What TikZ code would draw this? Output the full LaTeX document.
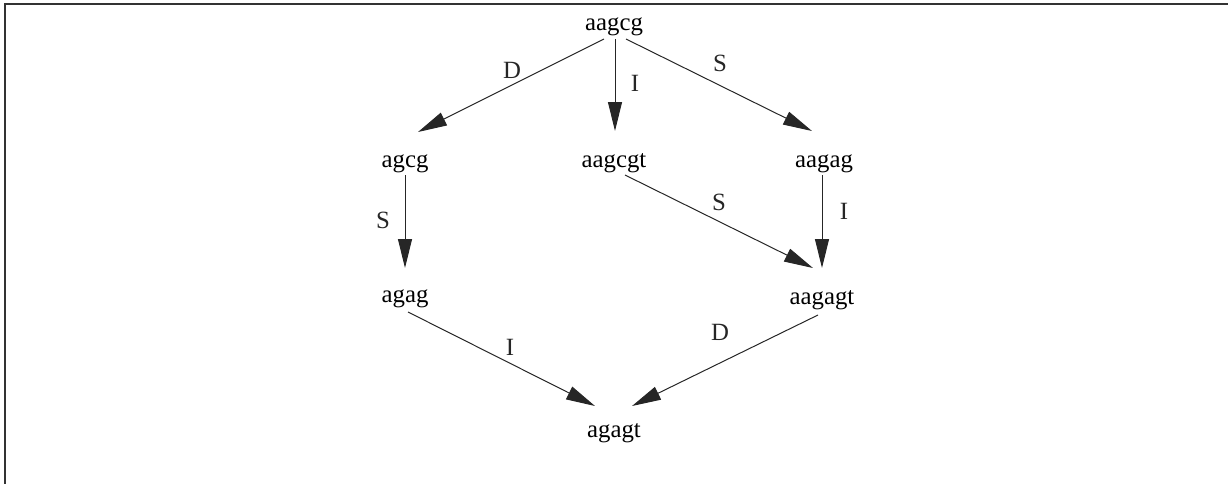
\documentclass[tikz,border=0pt]{standalone}
\usepackage{fontspec}
\setmainfont{Liberation Serif}
\usetikzlibrary{arrows.meta, calc}

\begin{document}
\begin{tikzpicture}[
    x=0.5pt, y=-0.5pt,
    font=\fontsize{12.4}{15}\selectfont,
    word/.style={anchor=base, inner sep=0pt},
    lbl/.style={inner sep=0pt, anchor=center},
    arr/.style={-{Triangle[length=14.5pt, width=7pt]}, line width=0.5pt, black!85}
]
\useasboundingbox (0,0) rectangle (1228,484);
\draw[line width=0.7pt, black!80] (1228,4) -- (5,4) -- (5,484);
% strings
\node[word] (aagcg) at (614,30) {aagcg};
\node[word] (agcg) at (405,167) {agcg};
\node[word] (aagcgt) at (614,167) {aagcgt};
\node[word] (aagag) at (824,167) {aagag};
\node[word] (agag) at (405,302) {agag};
\node[word] (aagagt) at (822,304) {aagagt};
\node[word] (agagt) at (614,437) {agagt};
% edit steps
\draw[arr] ($(aagcg.base)+(-10,9)$) -- ($(agcg.base)+(13,-35)$) node[lbl, midway, shift={(1,-15.5)}] {D};
\draw[arr] ($(aagcg.base)+(1,9)$) -- ($(aagcgt.base)+(1,-36)$) node[lbl, midway, shift={(20,-2)}] {I};
\draw[arr] ($(aagcg.base)+(12,9)$) -- ($(aagag.base)+(-12,-36)$) node[lbl, midway, shift={(1,-22)}] {S};
\draw[arr] ($(agcg.base)+(0,8)$) -- ($(agag.base)+(0,-34)$) node[lbl, midway, shift={(-22,-1.5)}] {S};
\draw[arr] ($(aagcgt.base)+(11,8)$) -- ($(aagagt.base)+(-9,-36)$) node[lbl, midway, shift={(0,-19.5)}] {S};
\draw[arr] ($(aagag.base)+(-2,8)$) -- ($(aagagt.base)+(0,-36)$) node[lbl, midway, shift={(22,-10)}] {I};
\draw[arr] ($(agag.base)+(3,10)$) -- ($(agagt.base)+(-19,-31)$) node[lbl, midway, shift={(8.5,-12)}] {I};
\draw[arr] ($(aagagt.base)+(-4,11)$) -- ($(agagt.base)+(18,-31)$) node[lbl, midway, shift={(-5,-28.5)}] {D};
\end{tikzpicture}
\end{document}
